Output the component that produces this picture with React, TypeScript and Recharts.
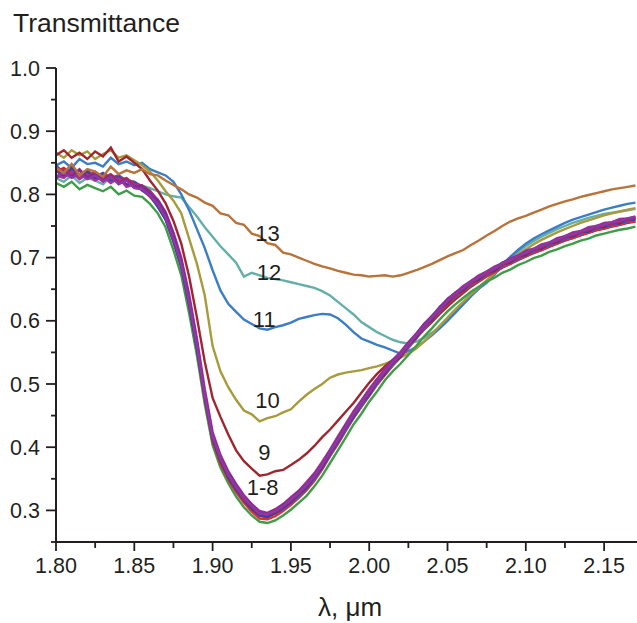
import React from "react"
import { LineChart, Line, XAxis, YAxis, ReferenceDot } from "recharts"

// wavelength grid, µm
const wavelength = [
  1.8, 1.805, 1.81, 1.815, 1.82, 1.825, 1.83, 1.835, 1.84, 1.845,
  1.85, 1.855, 1.86, 1.865, 1.87, 1.875, 1.88, 1.885, 1.89, 1.895,
  1.9, 1.905, 1.91, 1.915, 1.92, 1.925, 1.93, 1.935, 1.94, 1.945,
  1.95, 1.955, 1.96, 1.965, 1.97, 1.975, 1.98, 1.985, 1.99, 1.995,
  2.0, 2.005, 2.01, 2.015, 2.02, 2.025, 2.03, 2.035, 2.04, 2.045,
  2.05, 2.055, 2.06, 2.065, 2.07, 2.075, 2.08, 2.085, 2.09, 2.095,
  2.1, 2.105, 2.11, 2.115, 2.12, 2.125, 2.13, 2.135, 2.14, 2.145,
  2.15, 2.155, 2.16, 2.165, 2.17,
]

// curves 1-8 (almost on top of each other)
const t1 = [
  0.842, 0.832, 0.838, 0.828, 0.834, 0.826, 0.83, 0.822, 0.826, 0.816,
  0.814, 0.808, 0.796, 0.782, 0.76, 0.726, 0.686, 0.626, 0.556, 0.475,
  0.41, 0.374, 0.349, 0.329, 0.312, 0.298, 0.287, 0.286, 0.291, 0.299,
  0.309, 0.32, 0.332, 0.347, 0.365, 0.386, 0.405, 0.426, 0.446, 0.464,
  0.481, 0.499, 0.514, 0.529, 0.542, 0.557, 0.572, 0.587, 0.6, 0.614,
  0.626, 0.637, 0.646, 0.656, 0.663, 0.671, 0.677, 0.685, 0.69, 0.697,
  0.702, 0.708, 0.712, 0.718, 0.722, 0.728, 0.731, 0.736, 0.739, 0.744,
  0.746, 0.75, 0.752, 0.756, 0.757,
]
const t2 = [
  0.818, 0.812, 0.82, 0.808, 0.815, 0.81, 0.805, 0.812, 0.8, 0.806,
  0.798, 0.796, 0.785, 0.77, 0.748, 0.712, 0.672, 0.612, 0.545, 0.468,
  0.403, 0.368, 0.343, 0.322, 0.305, 0.292, 0.282, 0.28, 0.284, 0.292,
  0.301, 0.312, 0.323, 0.338, 0.355, 0.375, 0.395, 0.415, 0.436, 0.453,
  0.472, 0.488, 0.506, 0.52, 0.532, 0.546, 0.56, 0.575, 0.588, 0.602,
  0.615, 0.626, 0.636, 0.646, 0.654, 0.662, 0.668, 0.676, 0.681, 0.688,
  0.693, 0.699, 0.703, 0.709, 0.713, 0.718, 0.722, 0.727, 0.73, 0.735,
  0.738, 0.741, 0.744, 0.746, 0.749,
]
const t3 = [
  0.838, 0.828, 0.842, 0.83, 0.836, 0.824, 0.832, 0.82, 0.828, 0.815,
  0.818, 0.806, 0.798, 0.78, 0.76, 0.725, 0.685, 0.625, 0.555, 0.478,
  0.412, 0.378, 0.352, 0.333, 0.316, 0.302, 0.292, 0.29, 0.296, 0.304,
  0.313, 0.326, 0.336, 0.353, 0.368, 0.391, 0.408, 0.432, 0.448, 0.47,
  0.483, 0.504, 0.516, 0.534, 0.543, 0.562, 0.573, 0.592, 0.601, 0.619,
  0.628, 0.642, 0.648, 0.661, 0.665, 0.676, 0.679, 0.69, 0.692, 0.702,
  0.704, 0.713, 0.714, 0.723, 0.724, 0.733, 0.733, 0.741, 0.741, 0.749,
  0.748, 0.755, 0.754, 0.761, 0.76,
]
const t4 = [
  0.825, 0.838, 0.828, 0.84, 0.826, 0.834, 0.822, 0.83, 0.818, 0.824,
  0.812, 0.814, 0.802, 0.79, 0.77, 0.735, 0.695, 0.635, 0.565, 0.485,
  0.42, 0.385, 0.36, 0.34, 0.322, 0.309, 0.297, 0.295, 0.3, 0.309,
  0.318, 0.33, 0.341, 0.357, 0.373, 0.395, 0.413, 0.435, 0.453, 0.473,
  0.488, 0.507, 0.521, 0.537, 0.548, 0.565, 0.578, 0.595, 0.606, 0.622,
  0.633, 0.645, 0.652, 0.663, 0.669, 0.678, 0.683, 0.692, 0.697, 0.703,
  0.709, 0.713, 0.719, 0.723, 0.729, 0.733, 0.738, 0.741, 0.746, 0.749,
  0.753, 0.755, 0.759, 0.761, 0.763,
]
const t5 = [
  0.83, 0.826, 0.836, 0.824, 0.832, 0.822, 0.828, 0.818, 0.826, 0.812,
  0.816, 0.812, 0.804, 0.792, 0.772, 0.74, 0.7, 0.642, 0.572, 0.492,
  0.424, 0.388, 0.362, 0.342, 0.324, 0.31, 0.299, 0.296, 0.302, 0.31,
  0.321, 0.331, 0.345, 0.359, 0.377, 0.396, 0.417, 0.437, 0.457, 0.474,
  0.492, 0.508, 0.524, 0.538, 0.551, 0.566, 0.58, 0.595, 0.608, 0.621,
  0.635, 0.644, 0.655, 0.663, 0.672, 0.678, 0.686, 0.691, 0.699, 0.703,
  0.711, 0.714, 0.721, 0.724, 0.731, 0.734, 0.74, 0.742, 0.748, 0.75,
  0.755, 0.756, 0.761, 0.762, 0.765,
]
const t6 = [
  0.846, 0.834, 0.84, 0.832, 0.838, 0.828, 0.834, 0.826, 0.83, 0.822,
  0.82, 0.812, 0.801, 0.786, 0.764, 0.728, 0.688, 0.628, 0.558, 0.479,
  0.414, 0.379, 0.353, 0.333, 0.316, 0.303, 0.291, 0.289, 0.295, 0.302,
  0.312, 0.322, 0.335, 0.349, 0.367, 0.387, 0.407, 0.427, 0.447, 0.465,
  0.482, 0.5, 0.516, 0.53, 0.544, 0.558, 0.574, 0.588, 0.602, 0.615,
  0.629, 0.638, 0.649, 0.657, 0.666, 0.672, 0.68, 0.686, 0.693, 0.698,
  0.705, 0.709, 0.715, 0.719, 0.725, 0.729, 0.734, 0.737, 0.742, 0.745,
  0.749, 0.751, 0.755, 0.757, 0.761,
]
const t7 = [
  0.836, 0.842, 0.832, 0.838, 0.828, 0.836, 0.826, 0.832, 0.822, 0.826,
  0.816, 0.814, 0.806, 0.79, 0.769, 0.734, 0.694, 0.634, 0.563, 0.482,
  0.416, 0.381, 0.356, 0.336, 0.318, 0.306, 0.294, 0.293, 0.298, 0.306,
  0.316, 0.327, 0.339, 0.354, 0.371, 0.392, 0.411, 0.432, 0.451, 0.47,
  0.486, 0.504, 0.519, 0.534, 0.546, 0.562, 0.576, 0.591, 0.604, 0.618,
  0.631, 0.641, 0.651, 0.66, 0.668, 0.675, 0.682, 0.689, 0.695, 0.701,
  0.707, 0.712, 0.717, 0.722, 0.727, 0.732, 0.736, 0.74, 0.744, 0.748,
  0.751, 0.754, 0.757, 0.76, 0.763,
]
const t8 = [
  0.828, 0.834, 0.826, 0.832, 0.824, 0.83, 0.82, 0.828, 0.816, 0.822,
  0.81, 0.808, 0.798, 0.784, 0.763, 0.729, 0.689, 0.63, 0.56, 0.481,
  0.417, 0.383, 0.357, 0.337, 0.32, 0.307, 0.295, 0.294, 0.299, 0.307,
  0.317, 0.328, 0.34, 0.355, 0.372, 0.393, 0.412, 0.433, 0.452, 0.471,
  0.487, 0.505, 0.52, 0.535, 0.547, 0.563, 0.577, 0.592, 0.605, 0.619,
  0.632, 0.643, 0.652, 0.662, 0.669, 0.677, 0.683, 0.691, 0.696, 0.703,
  0.708, 0.714, 0.718, 0.724, 0.728, 0.734, 0.737, 0.742, 0.745, 0.75,
  0.752, 0.756, 0.758, 0.762, 0.764,
]
const t9 = [
  0.862, 0.87, 0.858, 0.866, 0.856, 0.868, 0.86, 0.874, 0.852, 0.86,
  0.85, 0.84, 0.822, 0.806, 0.786, 0.758, 0.722, 0.67, 0.605, 0.535,
  0.478, 0.448, 0.42, 0.395, 0.378, 0.366, 0.355, 0.357, 0.362, 0.364,
  0.372, 0.38, 0.39, 0.402, 0.416, 0.428, 0.442, 0.456, 0.47, 0.486,
  0.502, 0.516, 0.528, 0.538, 0.548, 0.56, 0.573, 0.586, 0.598, 0.611,
  0.623, 0.634, 0.644, 0.654, 0.662, 0.67, 0.677, 0.684, 0.69, 0.696,
  0.702, 0.707, 0.712, 0.717, 0.722, 0.727, 0.731, 0.735, 0.739, 0.743,
  0.746, 0.749, 0.752, 0.755, 0.757,
]
const t10 = [
  0.866, 0.858, 0.87, 0.862, 0.868, 0.856, 0.864, 0.87, 0.858, 0.862,
  0.854, 0.846, 0.836, 0.822, 0.805, 0.79, 0.77, 0.73, 0.69, 0.64,
  0.56, 0.52, 0.495, 0.475, 0.458, 0.452, 0.441, 0.446, 0.449, 0.455,
  0.46, 0.472, 0.483, 0.492, 0.5, 0.51, 0.515, 0.518, 0.52, 0.522,
  0.525, 0.528, 0.532, 0.537, 0.542, 0.548, 0.556, 0.567, 0.579, 0.592,
  0.605, 0.618, 0.63, 0.642, 0.653, 0.664, 0.675, 0.686, 0.696, 0.705,
  0.713, 0.721, 0.728, 0.734, 0.74, 0.745, 0.75, 0.755, 0.759, 0.763,
  0.767, 0.77, 0.773, 0.776, 0.778,
]
const t11 = [
  0.846, 0.852, 0.842, 0.856, 0.848, 0.85, 0.844, 0.858, 0.848, 0.852,
  0.846, 0.85, 0.84, 0.835, 0.83, 0.82, 0.8, 0.775, 0.745, 0.715,
  0.68, 0.648, 0.627, 0.614, 0.602, 0.595, 0.588, 0.586, 0.59, 0.593,
  0.597, 0.603, 0.606, 0.609, 0.611, 0.61, 0.604, 0.594, 0.582, 0.572,
  0.567, 0.562, 0.558, 0.553, 0.548, 0.552, 0.558, 0.567, 0.577, 0.588,
  0.6, 0.613, 0.626, 0.639, 0.651, 0.66, 0.673, 0.689, 0.701, 0.712,
  0.722, 0.73, 0.737, 0.743, 0.749, 0.755, 0.76, 0.764, 0.768, 0.772,
  0.776, 0.779, 0.782, 0.785, 0.787,
]
const t12 = [
  0.826, 0.82, 0.83, 0.818, 0.826, 0.822, 0.816, 0.828, 0.82, 0.824,
  0.818, 0.814, 0.81, 0.805, 0.8, 0.797, 0.795, 0.78, 0.765, 0.748,
  0.733, 0.718, 0.705, 0.692, 0.67, 0.676, 0.672, 0.668, 0.666, 0.664,
  0.661, 0.658, 0.655, 0.652, 0.647, 0.64, 0.63, 0.62, 0.61, 0.598,
  0.59, 0.582, 0.576, 0.57, 0.566, 0.564, 0.567, 0.573, 0.581, 0.59,
  0.601, 0.613, 0.626, 0.639, 0.651, 0.662, 0.674, 0.686, 0.698, 0.709,
  0.718, 0.726, 0.733, 0.739, 0.745, 0.75, 0.755, 0.759, 0.763, 0.766,
  0.769, 0.771, 0.773, 0.775, 0.777,
]
const t13 = [
  0.842, 0.834, 0.848, 0.83, 0.84, 0.836, 0.828, 0.844, 0.832, 0.838,
  0.834, 0.84, 0.832, 0.83, 0.822, 0.815, 0.808, 0.8, 0.795, 0.787,
  0.782, 0.77, 0.767, 0.755, 0.752, 0.738, 0.734, 0.723, 0.72, 0.708,
  0.705, 0.7, 0.695, 0.69, 0.686, 0.683, 0.679, 0.676, 0.673, 0.672,
  0.67, 0.671, 0.672, 0.67, 0.672, 0.676, 0.68, 0.685, 0.69, 0.696,
  0.702, 0.707, 0.712, 0.72, 0.727, 0.735, 0.742, 0.75, 0.757, 0.762,
  0.766, 0.771, 0.776, 0.781, 0.785, 0.789, 0.792, 0.796, 0.799, 0.802,
  0.805, 0.808, 0.81, 0.812, 0.814,
]

// drawing order: later ones on top
const series = [
  { key: "c12", values: t12, color: "#64b0a8" },
  { key: "c11", values: t11, color: "#3b7ec5" },
  { key: "c10", values: t10, color: "#a89b3b" },
  { key: "c9", values: t9, color: "#a0252f" },
  { key: "c2", values: t2, color: "#3f9d48" },
  { key: "c1", values: t1, color: "#e52b2b" },
  { key: "c6", values: t6, color: "#5a4fb0" },
  { key: "c3", values: t3, color: "#3b3f9f" },
  { key: "c7", values: t7, color: "#c0283c" },
  { key: "c5", values: t5, color: "#a4328f" },
  { key: "c4", values: t4, color: "#7f2b94" },
  { key: "c8", values: t8, color: "#8f36a8" },
  { key: "c13", values: t13, color: "#b8733a" },
]

const curveLabels = [
  { text: "13", x: 1.935, y: 0.738 },
  { text: "12", x: 1.936, y: 0.677 },
  { text: "11", x: 1.933, y: 0.602 },
  { text: "10", x: 1.935, y: 0.474 },
  { text: "9", x: 1.933, y: 0.392 },
  { text: "1-8", x: 1.932, y: 0.337 },
]

const xTicks = [1.8, 1.825, 1.85, 1.875, 1.9, 1.925, 1.95, 1.975, 2.0, 2.025, 2.05, 2.075, 2.1, 2.125, 2.15]
const yTicks = [0.25, 0.3, 0.35, 0.4, 0.45, 0.5, 0.55, 0.6, 0.65, 0.7, 0.75, 0.8, 0.85, 0.9, 0.95, 1.0]

const ink = "#231f20"
const font = "'Liberation Sans', Arial, Helvetica, sans-serif"

const data = wavelength.map((w, i) => {
  const row: Record<string, number> = { w }
  series.forEach((s) => {
    row[s.key] = s.values[i]
  })
  return row
})

const isMultiple = (v: number, step: number) => Math.abs(v / step - Math.round(v / step)) < 1e-6

function XTick(props: any) {
  const { x, y, payload } = props
  const major = isMultiple(payload.value, 0.05)
  const axisY = y - 16
  return (
    <g>
      <line x1={x} x2={x} y1={axisY} y2={axisY + (major ? 9 : 6)} stroke={ink} strokeWidth={1.8} />
      {major && (
        <text x={x} y={y} dy="0.71em" textAnchor="middle" fill={ink} fontSize={21.5} fontFamily={font}>
          {payload.value.toFixed(2)}
        </text>
      )}
    </g>
  )
}

function YTick(props: any) {
  const { x, y, payload } = props
  const major = isMultiple(payload.value, 0.1)
  const axisX = x + 16
  return (
    <g>
      <line x1={axisX - (major ? 10 : 5)} x2={axisX} y1={y} y2={y} stroke={ink} strokeWidth={1.8} />
      {major && (
        <text x={x} y={y} dy="0.355em" textAnchor="end" fill={ink} fontSize={21.5} fontFamily={font}>
          {payload.value.toFixed(1)}
        </text>
      )}
    </g>
  )
}

export default function App() {
  return (
    <div style={{ position: "absolute", left: 0, top: 0, width: 637, height: 623, background: "#fff", fontFamily: font }}>
      <div style={{ position: "absolute", left: 13, top: 10, fontSize: 26.5, lineHeight: "26px", color: ink }}>
        Transmittance
      </div>
      <LineChart width={637} height={623} data={data} margin={{ top: 68, right: 0, bottom: 0, left: 0 }}>
        <XAxis
          dataKey="w"
          type="number"
          domain={[1.8, 2.171]}
          ticks={xTicks}
          interval={0}
          allowDataOverflow
          height={81}
          tickSize={9}
          tickMargin={7}
          tickLine={false}
          axisLine={{ stroke: ink, strokeWidth: 2 }}
          tick={<XTick />}
        />
        <YAxis
          type="number"
          domain={[0.25, 1.0]}
          ticks={yTicks}
          interval={0}
          allowDataOverflow
          width={56}
          tickSize={10}
          tickMargin={6}
          tickLine={false}
          axisLine={{ stroke: ink, strokeWidth: 2 }}
          tick={<YTick />}
        />
        {series.map((s) => (
          <Line
            key={s.key}
            type="linear"
            dataKey={s.key}
            stroke={s.color}
            strokeWidth={2.4}
            dot={false}
            activeDot={false}
            isAnimationActive={false}
          />
        ))}
        {curveLabels.map((l) => (
          <ReferenceDot
            key={l.text}
            x={l.x}
            y={l.y}
            r={0}
            fill="none"
            stroke="none"
            label={{ value: l.text, position: "center", fontSize: 22, fill: ink, fontFamily: font }}
          />
        ))}
      </LineChart>
      <div
        style={{
          position: "absolute",
          left: 250,
          top: 594,
          width: 200,
          textAlign: "center",
          fontSize: 26,
          lineHeight: "26px",
          color: ink,
        }}
      >
        λ, μm
      </div>
    </div>
  )
}
